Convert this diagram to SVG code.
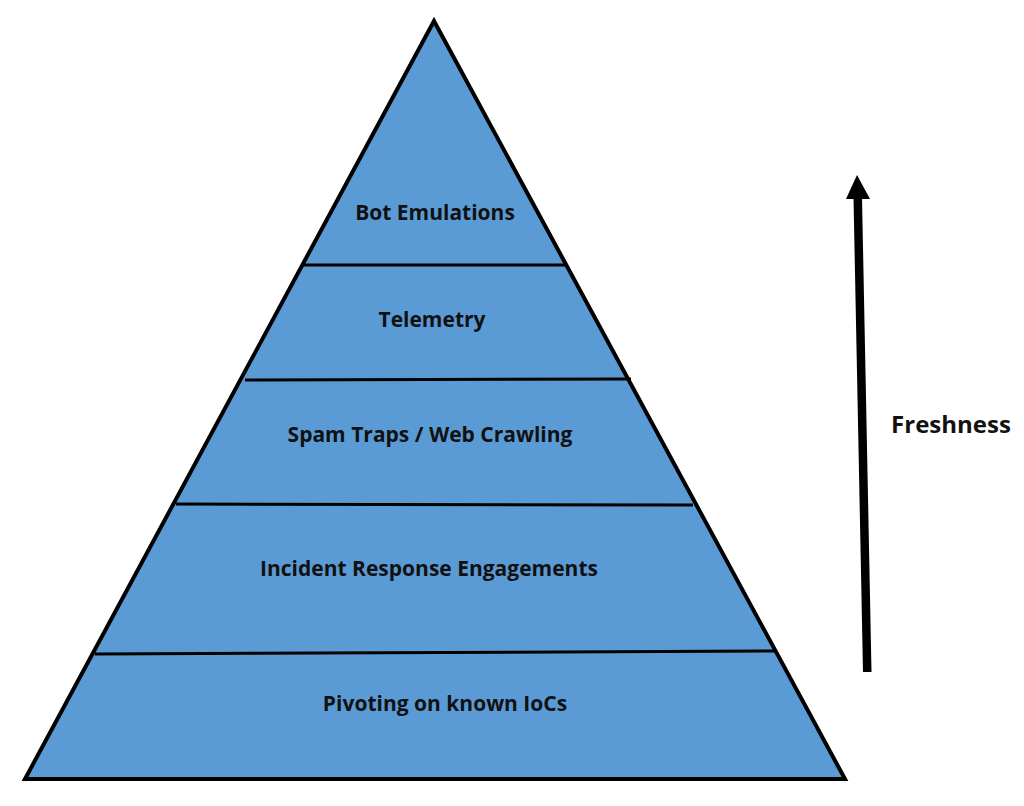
<svg xmlns="http://www.w3.org/2000/svg" width="1024" height="806" viewBox="0 0 1024 806">
<style>
.lbl{font-family:"Open Sans","Liberation Sans",sans-serif;font-weight:bold;font-size:21px;fill:#111;text-anchor:middle}
.div{stroke:#000;stroke-width:3;fill:none}
</style>
<rect width="1024" height="806" fill="#fff"/>
<g id="pyramid">
<polygon points="434,21 25,779 845,779" fill="#5B9BD5" stroke="#000" stroke-width="4" stroke-linejoin="miter"/>
</g>
<g id="connectors">
<line class="div" x1="303" y1="265" x2="566" y2="265"/>
<line class="div" x1="245" y1="380" x2="631" y2="379"/>
<line class="div" x1="176" y1="504" x2="693" y2="505"/>
<line class="div" x1="95" y1="654" x2="777" y2="651"/>
<g id="freshness-arrow">
<polygon points="857,175 846,199 870,199" fill="#000"/>
<polygon points="853.5,198 862,198 871.5,672 863,672" fill="#000"/>
</g>
</g>
<g id="tier-bot"><text class="lbl" x="435" y="220">Bot Emulations</text></g>
<g id="tier-telemetry"><text class="lbl" x="432" y="327">Telemetry</text></g>
<g id="tier-spam"><text class="lbl" x="430" y="442">Spam Traps / Web Crawling</text></g>
<g id="tier-ir"><text class="lbl" x="429" y="576">Incident Response Engagements</text></g>
<g id="tier-pivot"><text class="lbl" x="445" y="711">Pivoting on known IoCs</text></g>
<g id="freshness-label"><text class="lbl" x="951" y="433" style="font-size:24px">Freshness</text></g>
</svg>
